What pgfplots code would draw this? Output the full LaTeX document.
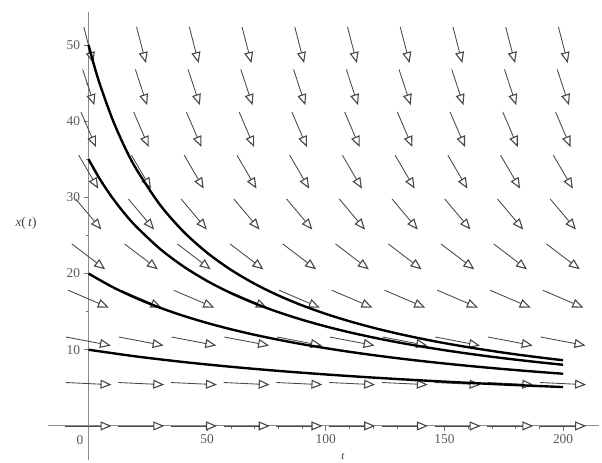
\documentclass[border=0pt]{standalone}
\usepackage{fontspec}
\setmainfont{Liberation Serif}
\usepackage{pgfplots}
\pgfplotsset{compat=1.18}
\usepackage{pgfplotstable}
\usetikzlibrary{arrows.meta}

% direction field: row value x, arrow components u (t-direction), v (x-direction)
\pgfplotstableread{
x u v
0 19.400 0
5.5556 19.366 -0.2869
11.1111 18.877 -1.1186
16.6667 17.118 -2.2824
22.2222 14.078 -3.3370
27.7778 10.854 -4.0199
33.3333 8.234 -4.3915
38.8889 6.317 -4.5857
44.4444 4.946 -4.6897
50 3.957 -4.7481
}\fieldtab

\begin{document}
\begin{tikzpicture}
\begin{axis}[
 x=2.373bp, y=7.62bp,
 xmin=-17, xmax=215, ymin=-4.5, ymax=54.3,
 axis lines=middle,
 axis line style={draw=black!45, line width=1.1bp, -},
 xtick={50,100,150,200}, ytick={10,20,30,40,50},
 minor x tick num=4, minor y tick num=1,
 tick align=outside,
 major tick length=5bp, minor tick length=3bp,
 tick style={black!55, line width=0.7bp},
 ticklabel style={font=\fontsize{13.5}{15}\selectfont, text=black!65},
 /pgf/number format/assume math mode=true,
 clip=false,
]
\pgfplotsinvokeforeach{0,22.2222,44.4444,66.6667,88.8889,111.1111,133.3333,155.5556,177.7778,200}{
 \addplot[black!72, line width=0.85bp, -{Triangle[open, fill=white, length=11bp, width=9bp, line width=1.1bp]},
   quiver={u=\thisrow{u}, v=\thisrow{v}}]
   table[x expr={#1-0.5*\thisrow{u}}, y expr={\thisrow{x}-0.5*\thisrow{v}}] {\fieldtab};
}
\addplot[black, line width=2.4bp, smooth] coordinates {
(0,50) (2.5,47.170) (5,44.643) (10,40.323) (15,36.765) (20,33.784) (30,29.070) (40,25.510)
(50,22.727) (60,20.492) (70,18.657) (80,17.123) (90,15.823) (100,14.706) (110,13.736)
(120,12.887) (130,12.136) (140,11.468) (150,10.870) (160,10.331) (170,9.843) (180,9.398)
(190,8.993) (200,8.621)};
\addplot[black, line width=2.4bp, smooth] coordinates {
(0,35) (5,32.288) (10,29.966) (15,27.955) (20,26.198) (30,23.271) (40,20.933) (50,19.022)
(60,17.430) (70,16.085) (80,14.932) (90,13.933) (100,13.060) (110,12.289) (120,11.605)
(130,10.993) (140,10.441) (150,9.943) (160,9.490) (170,9.077) (180,8.698) (190,8.349) (200,8.028)};
\addplot[black, line width=2.4bp, smooth] coordinates {
(0,20) (10,18.248) (20,16.779) (30,15.528) (40,14.451) (50,13.514) (60,12.690) (70,11.962)
(80,11.312) (90,10.730) (100,10.204) (110,9.728) (120,9.294) (130,8.897) (140,8.532)
(150,8.197) (160,7.886) (170,7.599) (180,7.331) (190,7.082) (200,6.849)};
\addplot[black, line width=2.4bp, smooth] coordinates {
(0,10) (20,9.124) (40,8.389) (60,7.764) (80,7.225) (100,6.757) (120,6.345) (140,5.981)
(160,5.656) (180,5.365) (200,5.102)};
\node[font=\fontsize{13.5}{15}\selectfont, text=black!65] at (axis cs:-3.6,-1.84) {0};
\node[font=\fontsize{13.5}{15}\selectfont, text=black!75] at (axis cs:-26.3,26.6) {\textit{x}(\,\textit{t})};
\node[font=\fontsize{11}{12}\selectfont, text=black!75] at (axis cs:107.2,-3.95) {\textit{t}};
\coordinate (bl) at (axis cs:-37.3,-4.86);
\coordinate (tr) at (axis cs:216.4,55.9);
\end{axis}
\pgfresetboundingbox
\path (bl) rectangle (tr);
\end{tikzpicture}
\end{document}
